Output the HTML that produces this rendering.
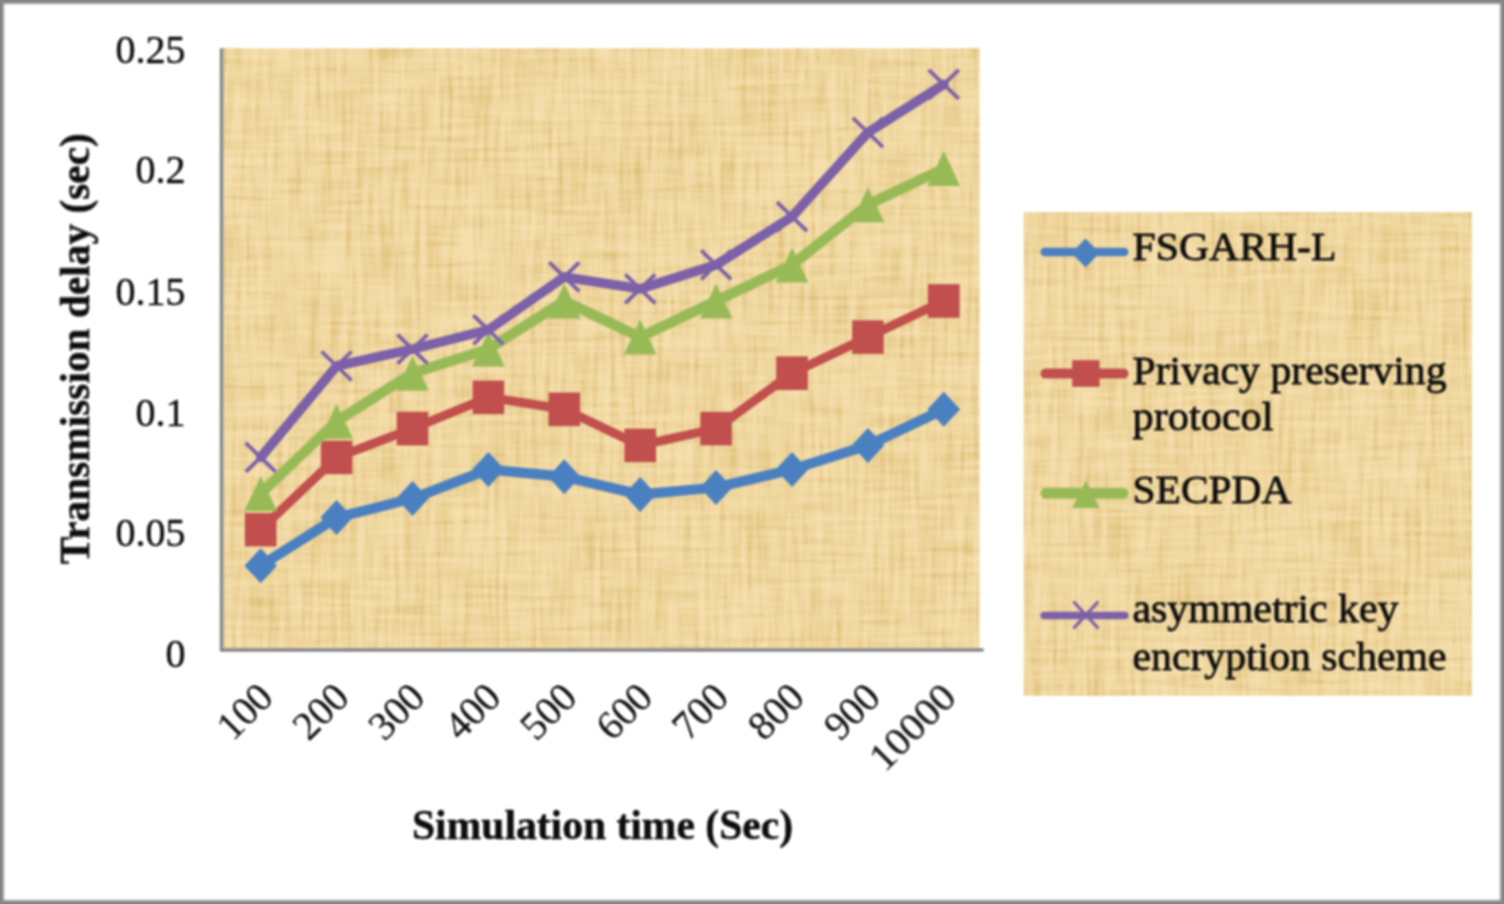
<!DOCTYPE html>
<html lang="en"><head><meta charset="utf-8"><title>Transmission delay chart</title>
<style>
html,body{margin:0;padding:0;background:#fff;}
body{width:1504px;height:904px;overflow:hidden;position:relative;}
#frame{position:absolute;left:0;top:0;width:1504px;height:904px;box-sizing:border-box;border:2px solid #868686;box-shadow:inset 0 0 3px 1.7px #868686;}
svg{position:absolute;left:0;top:0;display:block;}
svg text{font-family:"Liberation Serif","Times New Roman",serif;fill:#0c0c0c;stroke:#0c0c0c;stroke-width:0.8px;stroke-linejoin:round;}
.n{font-size:40px;}
.r{stroke-width:0.15px;}
.y{stroke-width:0.45px;}
.b{font-size:41.5px;font-weight:bold;stroke-width:0.45px;}
</style></head><body>
<svg width="1504" height="904" viewBox="0 0 1504 904">
<defs>
<filter id="pap" x="-2%" y="-2%" width="104%" height="104%" filterUnits="objectBoundingBox" color-interpolation-filters="sRGB">
<feTurbulence type="fractalNoise" baseFrequency="0.014 0.19" numOctaves="2" seed="4" result="h"/>
<feTurbulence type="fractalNoise" baseFrequency="0.19 0.014" numOctaves="2" seed="9" result="v"/>
<feTurbulence type="fractalNoise" baseFrequency="0.009 0.009" numOctaves="1" seed="2" result="l"/>
<feComposite in="h" in2="v" operator="arithmetic" k1="0" k2="0.42" k3="0.58" k4="0" result="hv"/>
<feComposite in="hv" in2="l" operator="arithmetic" k1="0" k2="0.9" k3="0.1" k4="0" result="n"/>
<feComponentTransfer in="n" result="c"><feFuncR type="table" tableValues="0 0.1 0.2 0.31 0.42 0.51 0.57 0.6 0.62 0.63 0.63"/></feComponentTransfer>
<feColorMatrix in="c" type="matrix" values="0.24 0 0 0 0.818  0.36 0 0 0 0.661  0.60 0 0 0 0.322  0 0 0 0 1" result="t"/>
<feComposite in="t" in2="SourceGraphic" operator="in" result="tc"/>
<feGaussianBlur in="tc" stdDeviation="0.8"/>
</filter>
<filter id="soft" x="-2%" y="-2%" width="104%" height="104%"><feGaussianBlur stdDeviation="1.3"/></filter>
</defs>

<rect x="222.6" y="48.2" width="757.0" height="601.8" fill="#ecd69c" filter="url(#pap)"/>
<rect x="1023.7" y="212" width="448.3" height="483.8" fill="#ecd69c" filter="url(#pap)"/>
<g filter="url(#soft)">
<path d="M221.6 48.2V651.5M220.1 650.0H983.6" stroke="#868686" stroke-width="3.6" fill="none"/>
<polyline points="260.7,565.8 336.6,517.6 412.5,498.4 488.4,469.5 564.3,476.7 640.2,494.5 716.1,487.5 792.0,469.5 867.9,445.4 943.8,409.3" fill="none" stroke="#4b80c0" stroke-width="10.2" stroke-linejoin="round" stroke-linecap="round"/>
<path d="M260.7 548.3L277.0 565.8L260.7 583.3L244.4 565.8Z" fill="#4b80c0"/>
<path d="M336.6 500.1L352.9 517.6L336.6 535.1L320.3 517.6Z" fill="#4b80c0"/>
<path d="M412.5 480.9L428.8 498.4L412.5 515.9L396.2 498.4Z" fill="#4b80c0"/>
<path d="M488.4 452.0L504.7 469.5L488.4 487.0L472.1 469.5Z" fill="#4b80c0"/>
<path d="M564.3 459.2L580.6 476.7L564.3 494.2L548.0 476.7Z" fill="#4b80c0"/>
<path d="M640.2 477.0L656.5 494.5L640.2 512.0L623.9 494.5Z" fill="#4b80c0"/>
<path d="M716.1 470.0L732.4 487.5L716.1 505.0L699.8 487.5Z" fill="#4b80c0"/>
<path d="M792.0 452.0L808.3 469.5L792.0 487.0L775.7 469.5Z" fill="#4b80c0"/>
<path d="M867.9 427.9L884.2 445.4L867.9 462.9L851.6 445.4Z" fill="#4b80c0"/>
<path d="M943.8 391.8L960.1 409.3L943.8 426.8L927.5 409.3Z" fill="#4b80c0"/>
<polyline points="260.7,529.6 336.6,457.4 412.5,428.6 488.4,397.3 564.3,409.3 640.2,445.4 716.1,428.6 792.0,373.2 867.9,337.1 943.8,301.0" fill="none" stroke="#c0504d" stroke-width="9" stroke-linejoin="round" stroke-linecap="round"/>
<rect x="244.9" y="512.9" width="31.6" height="33.6" fill="#c0504d"/>
<rect x="320.8" y="440.6" width="31.6" height="33.6" fill="#c0504d"/>
<rect x="396.7" y="411.8" width="31.6" height="33.6" fill="#c0504d"/>
<rect x="472.6" y="380.5" width="31.6" height="33.6" fill="#c0504d"/>
<rect x="548.5" y="392.5" width="31.6" height="33.6" fill="#c0504d"/>
<rect x="624.4" y="428.6" width="31.6" height="33.6" fill="#c0504d"/>
<rect x="700.3" y="411.8" width="31.6" height="33.6" fill="#c0504d"/>
<rect x="776.2" y="356.4" width="31.6" height="33.6" fill="#c0504d"/>
<rect x="852.1" y="320.3" width="31.6" height="33.6" fill="#c0504d"/>
<rect x="928.0" y="284.2" width="31.6" height="33.6" fill="#c0504d"/>
<polyline points="260.7,493.5 336.6,421.3 412.5,373.2 488.4,349.1 564.3,301.0 640.2,337.1 716.1,301.0 792.0,264.9 867.9,204.7 943.8,168.6" fill="none" stroke="#98ba57" stroke-width="10.4" stroke-linejoin="round" stroke-linecap="round"/>
<path d="M260.7 476.0L277.0 511.0L244.4 511.0Z" fill="#98ba57"/>
<path d="M336.6 403.8L352.9 438.8L320.3 438.8Z" fill="#98ba57"/>
<path d="M412.5 355.7L428.8 390.7L396.2 390.7Z" fill="#98ba57"/>
<path d="M488.4 331.6L504.7 366.6L472.1 366.6Z" fill="#98ba57"/>
<path d="M564.3 283.5L580.6 318.5L548.0 318.5Z" fill="#98ba57"/>
<path d="M640.2 319.6L656.5 354.6L623.9 354.6Z" fill="#98ba57"/>
<path d="M716.1 283.5L732.4 318.5L699.8 318.5Z" fill="#98ba57"/>
<path d="M792.0 247.4L808.3 282.4L775.7 282.4Z" fill="#98ba57"/>
<path d="M867.9 187.2L884.2 222.2L851.6 222.2Z" fill="#98ba57"/>
<path d="M943.8 151.1L960.1 186.1L927.5 186.1Z" fill="#98ba57"/>
<polyline points="260.7,457.4 336.6,366.0 412.5,349.1 488.4,329.9 564.3,276.9 640.2,288.9 716.1,264.9 792.0,216.7 867.9,132.5 943.8,84.4" fill="none" stroke="#7c60a8" stroke-width="9.6" stroke-linejoin="round" stroke-linecap="round"/>
<path d="M245.7 442.9L275.7 471.9M275.7 442.9L245.7 471.9" stroke="#7c60a8" stroke-width="3.8" fill="none"/>
<path d="M321.6 351.5L351.6 380.5M351.6 351.5L321.6 380.5" stroke="#7c60a8" stroke-width="3.8" fill="none"/>
<path d="M397.5 334.6L427.5 363.6M427.5 334.6L397.5 363.6" stroke="#7c60a8" stroke-width="3.8" fill="none"/>
<path d="M473.4 315.4L503.4 344.4M503.4 315.4L473.4 344.4" stroke="#7c60a8" stroke-width="3.8" fill="none"/>
<path d="M549.3 262.4L579.3 291.4M579.3 262.4L549.3 291.4" stroke="#7c60a8" stroke-width="3.8" fill="none"/>
<path d="M625.2 274.4L655.2 303.4M655.2 274.4L625.2 303.4" stroke="#7c60a8" stroke-width="3.8" fill="none"/>
<path d="M701.1 250.4L731.1 279.4M731.1 250.4L701.1 279.4" stroke="#7c60a8" stroke-width="3.8" fill="none"/>
<path d="M777.0 202.2L807.0 231.2M807.0 202.2L777.0 231.2" stroke="#7c60a8" stroke-width="3.8" fill="none"/>
<path d="M852.9 118.0L882.9 147.0M882.9 118.0L852.9 147.0" stroke="#7c60a8" stroke-width="3.8" fill="none"/>
<path d="M928.8 69.9L958.8 98.9M958.8 69.9L928.8 98.9" stroke="#7c60a8" stroke-width="3.8" fill="none"/>
<text class="n y" x="185.5" y="667.0" text-anchor="end">0</text>
<text class="n y" x="185.5" y="545.6" text-anchor="end">0.05</text>
<text class="n y" x="185.5" y="425.8" text-anchor="end">0.1</text>
<text class="n y" x="185.5" y="305.4" text-anchor="end">0.15</text>
<text class="n y" x="185.5" y="182.6" text-anchor="end">0.2</text>
<text class="n y" x="185.5" y="62.5" text-anchor="end">0.25</text>
<text class="n r" transform="translate(275.2 699.5) rotate(-45)" text-anchor="end">100</text>
<text class="n r" transform="translate(351.1 699.5) rotate(-45)" text-anchor="end">200</text>
<text class="n r" transform="translate(427.0 699.5) rotate(-45)" text-anchor="end">300</text>
<text class="n r" transform="translate(502.9 699.5) rotate(-45)" text-anchor="end">400</text>
<text class="n r" transform="translate(578.8 699.5) rotate(-45)" text-anchor="end">500</text>
<text class="n r" transform="translate(654.7 699.5) rotate(-45)" text-anchor="end">600</text>
<text class="n r" transform="translate(730.6 699.5) rotate(-45)" text-anchor="end">700</text>
<text class="n r" transform="translate(806.5 699.5) rotate(-45)" text-anchor="end">800</text>
<text class="n r" transform="translate(882.4 699.5) rotate(-45)" text-anchor="end">900</text>
<text class="n r" transform="translate(958.3 699.5) rotate(-45)" text-anchor="end" textLength="104" lengthAdjust="spacingAndGlyphs">10000</text>
<text class="b" x="602.5" y="838.5" text-anchor="middle" textLength="381" lengthAdjust="spacingAndGlyphs">Simulation time (Sec)</text>
<text class="b" transform="translate(89 348.8) rotate(-90)" text-anchor="middle" textLength="431" lengthAdjust="spacingAndGlyphs">Transmission delay (sec)</text>
<path d="M1044.7 252H1124.3" stroke="#4b80c0" stroke-width="8.4" stroke-linecap="round"/>
<path d="M1085.5 238.5L1099.5 253.0L1085.5 267.5L1071.5 253.0Z" fill="#4b80c0"/>
<path d="M1045.5 373.6H1123.5" stroke="#c0504d" stroke-width="10" stroke-linecap="round"/>
<rect x="1072.2" y="360.2" width="27.4" height="26.6" fill="#c0504d"/>
<path d="M1046.0 493.3H1123.0" stroke="#98ba57" stroke-width="11" stroke-linecap="round"/>
<path d="M1085.9 479.9L1099.6 507.9L1072.2 507.9Z" fill="#98ba57"/>
<path d="M1044.2 615.4H1124.8" stroke="#7c60a8" stroke-width="7.5" stroke-linecap="round"/>
<path d="M1073.4 601.5L1098.4 628.5M1098.4 601.5L1073.4 628.5" stroke="#7c60a8" stroke-width="3.2" fill="none"/>
<text class="n" x="1132.5" y="260" textLength="204" lengthAdjust="spacingAndGlyphs">FSGARH-L</text>
<text class="n" x="1132.5" y="383.5" textLength="314" lengthAdjust="spacingAndGlyphs">Privacy preserving</text>
<text class="n" x="1132.5" y="430.4" textLength="141" lengthAdjust="spacingAndGlyphs">protocol</text>
<text class="n" x="1132.5" y="502.7" textLength="159" lengthAdjust="spacingAndGlyphs">SECPDA</text>
<text class="n" x="1132.5" y="622.4" textLength="266" lengthAdjust="spacingAndGlyphs">asymmetric key</text>
<text class="n" x="1132.5" y="670.2" textLength="314" lengthAdjust="spacingAndGlyphs">encryption scheme</text>
</g></svg>
<div id="frame"></div>
</body></html>
